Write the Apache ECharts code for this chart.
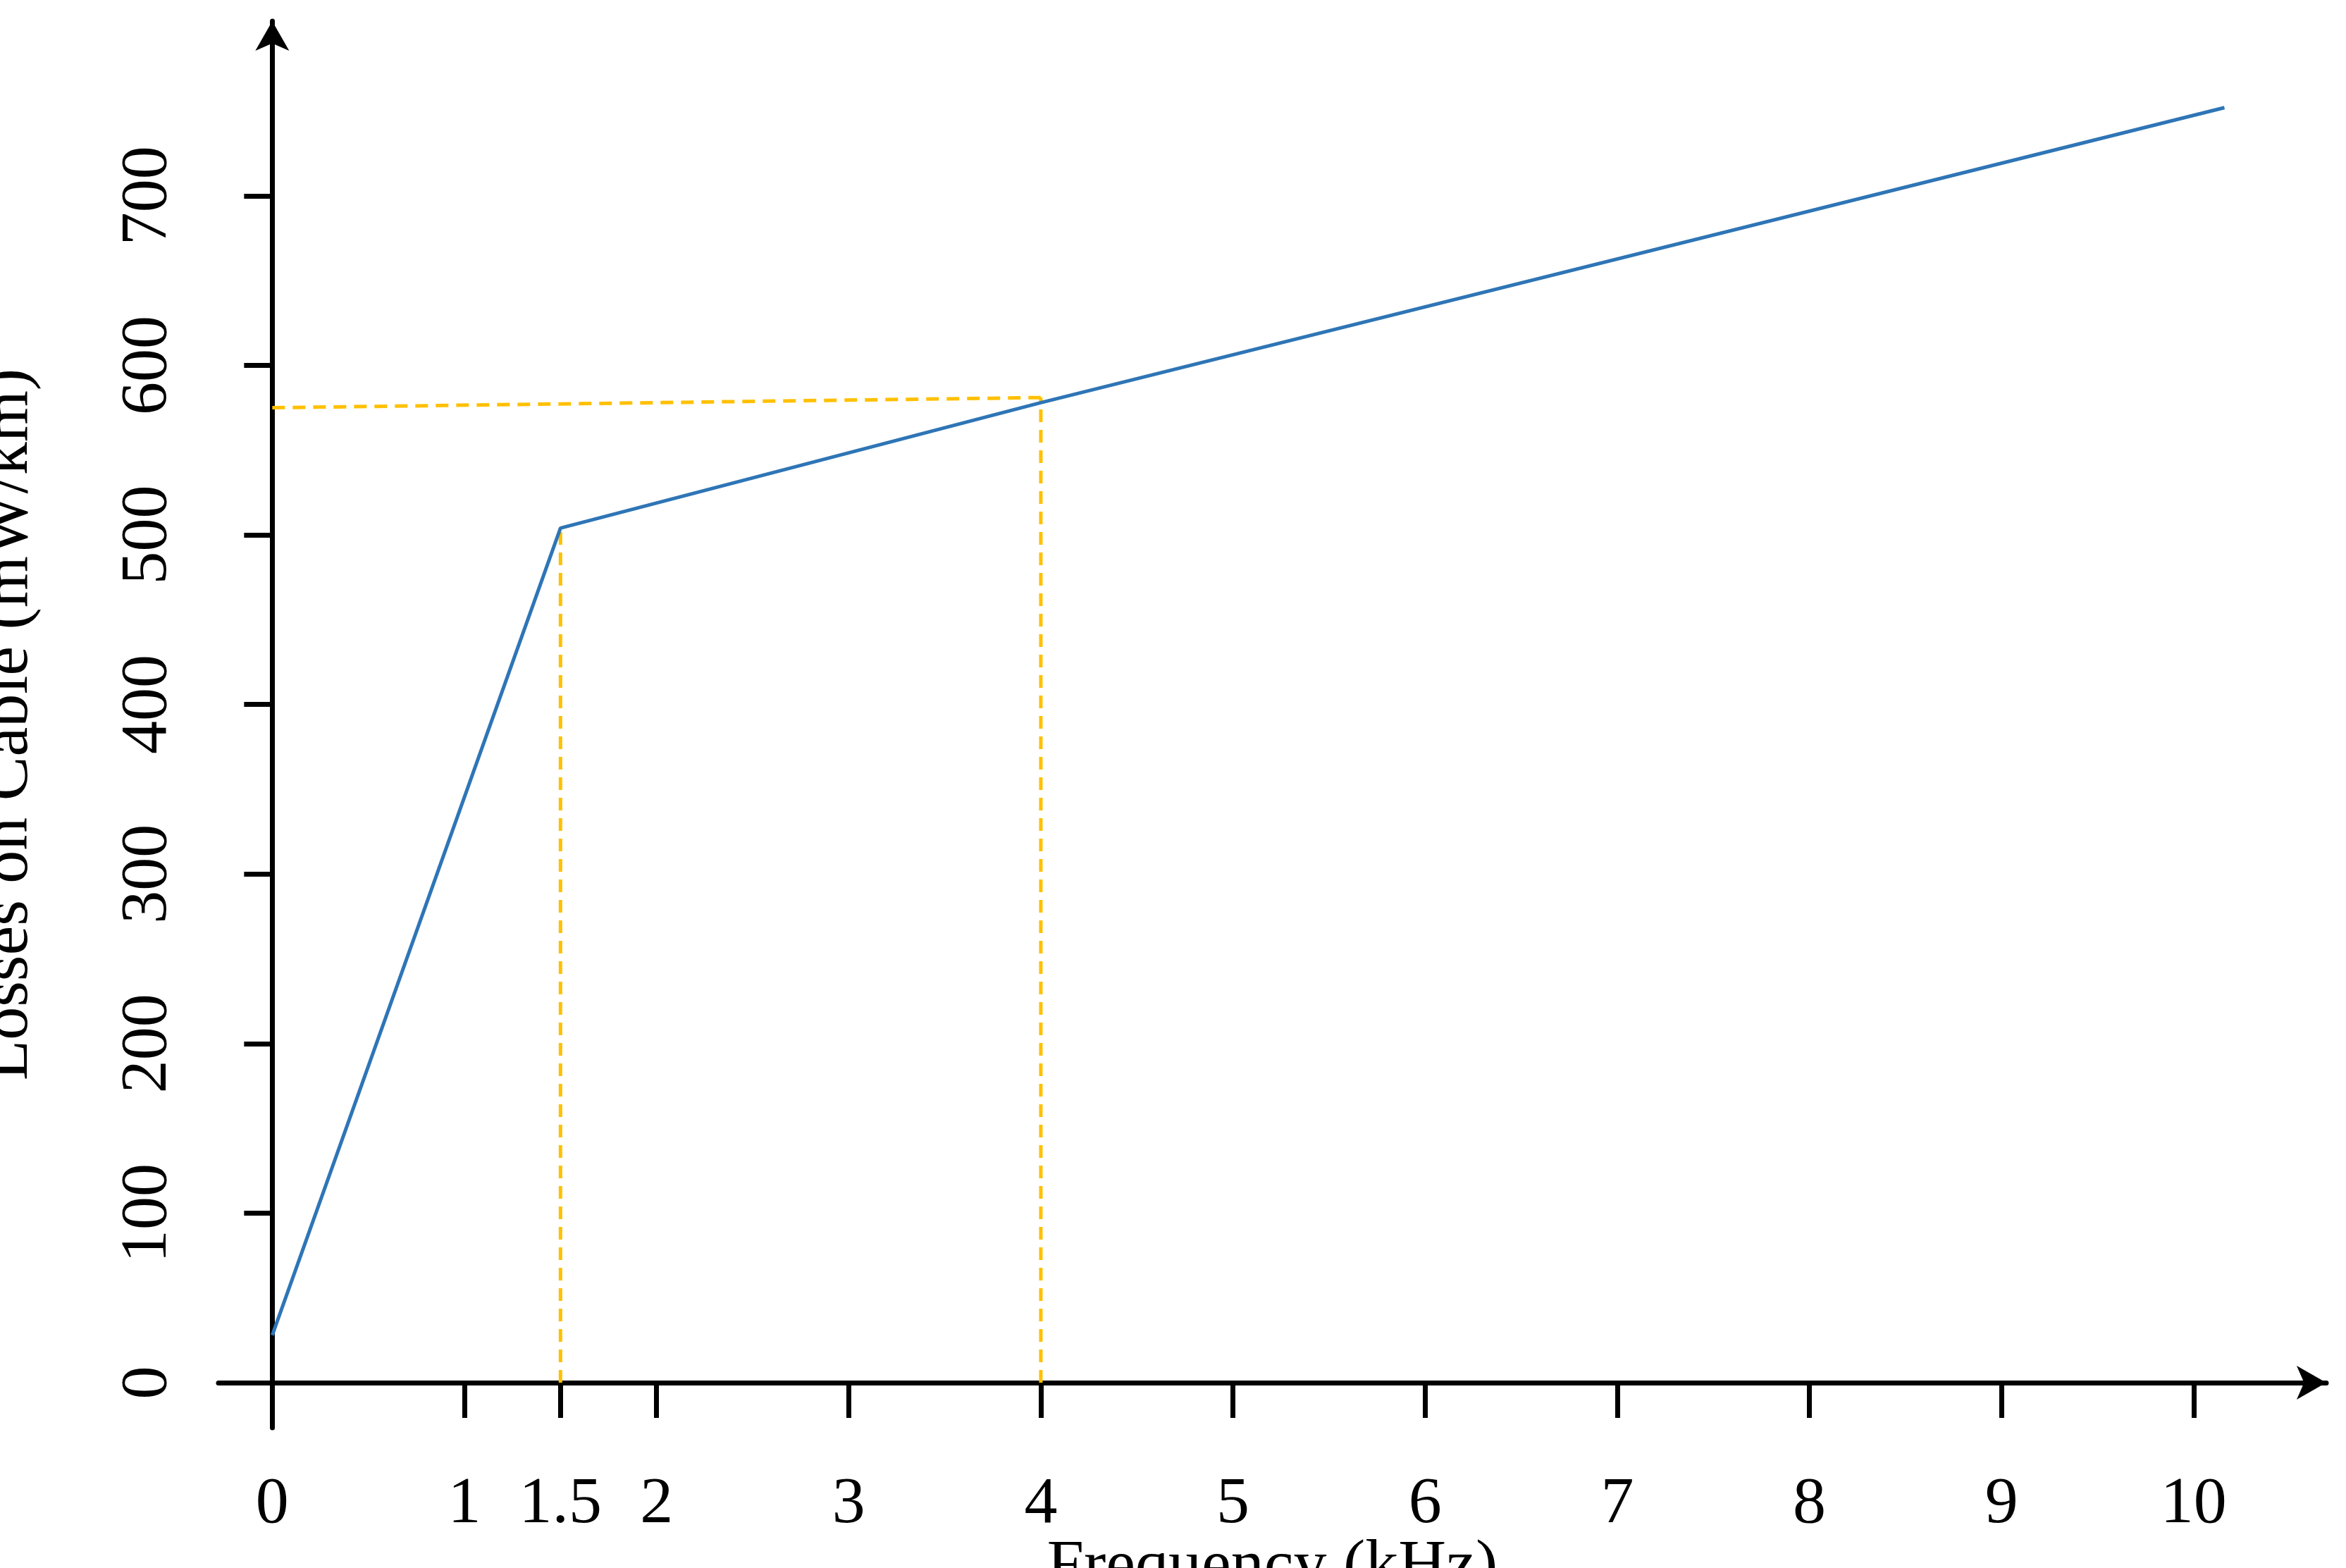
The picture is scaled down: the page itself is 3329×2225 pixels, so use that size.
<!DOCTYPE html>
<html>
<head>
<meta charset="utf-8">
<script src="https://cdn.jsdelivr.net/npm/echarts@6/dist/echarts.min.js"></script>
<style>
html, body { margin: 0; padding: 0; background: #fff; }
#chart { width: 3329px; height: 2225px; }
</style>
</head>
<body>
<div id="chart"></div>
<script>
// data
const xTicks = [0, 1, 1.5, 2, 3, 4, 5, 6, 7, 8, 9, 10];
const yTicks = [0, 100, 200, 300, 400, 500, 600, 700];
const lossCurve = [[0, 28], [1.5, 504], [4, 578], [10.16, 752]];
const guideH = [[0, 575], [4, 581]];
const guide15 = [[1.5, 0], [1.5, 502]];
const guide4 = [[4, 0], [4, 581]];

const FONT = 'Liberation Serif';

let chart = echarts.init(document.getElementById('chart'));

function dashed(data) {
    return {
        type: 'line',
        data: data,
        symbol: 'none',
        lineStyle: { color: '#FFC000', width: 5, type: [18, 11] },
        z: 1
    };
}

chart.setOption({
    animation: false,
    grid: { left: 310, right: 28, top: 30, bottom: 199, outerBoundsMode: 'none', containLabel: false },
    xAxis: {
        type: 'value',
        min: -0.28,
        max: 10.69,
        name: 'Frequency (kHz)',
        nameLocation: 'middle',
        nameGap: 151,
        nameMoveOverlap: false,
        nameTextStyle: { fontFamily: FONT, fontSize: 94, color: '#000' },
        splitLine: { show: false },
        axisLine: {
            onZero: true,
            symbol: ['none', 'arrow'],
            symbolSize: [36, 42],
            lineStyle: { color: '#000', width: 7 }
        },
        axisTick: {
            customValues: xTicks,
            length: 50,
            inside: false,
            lineStyle: { color: '#000', width: 7 }
        },
        axisLabel: {
            customValues: xTicks,
            margin: 62,
            fontFamily: FONT,
            fontSize: 94,
            color: '#000'
        }
    },
    yAxis: {
        type: 'value',
        min: -26.6,
        max: 803,
        name: 'Losses on Cable (mW/km)',
        nameLocation: 'middle',
        nameGap: 250,
        nameMoveOverlap: false,
        nameTextStyle: { fontFamily: FONT, fontSize: 94, color: '#000' },
        splitLine: { show: false },
        axisLine: {
            onZero: true,
            symbol: ['none', 'arrow'],
            symbolSize: [36, 42],
            lineStyle: { color: '#000', width: 7 }
        },
        axisTick: {
            customValues: yTicks,
            length: 40,
            lineStyle: { color: '#000', width: 7 }
        },
        axisLabel: {
            customValues: yTicks,
            rotate: 90,
            margin: 100,
            fontFamily: FONT,
            fontSize: 94,
            color: '#000',
            align: 'center',
            verticalAlign: 'middle'
        }
    },
    series: [
        dashed(guideH),
        dashed(guide15),
        dashed(guide4),
        {
            type: 'line',
            data: lossCurve,
            symbol: 'none',
            lineStyle: { color: '#2E75B6', width: 5 },
            z: 3
        }
    ]
});

window.onresize = function () { chart.resize(); };
</script>
</body>
</html>
